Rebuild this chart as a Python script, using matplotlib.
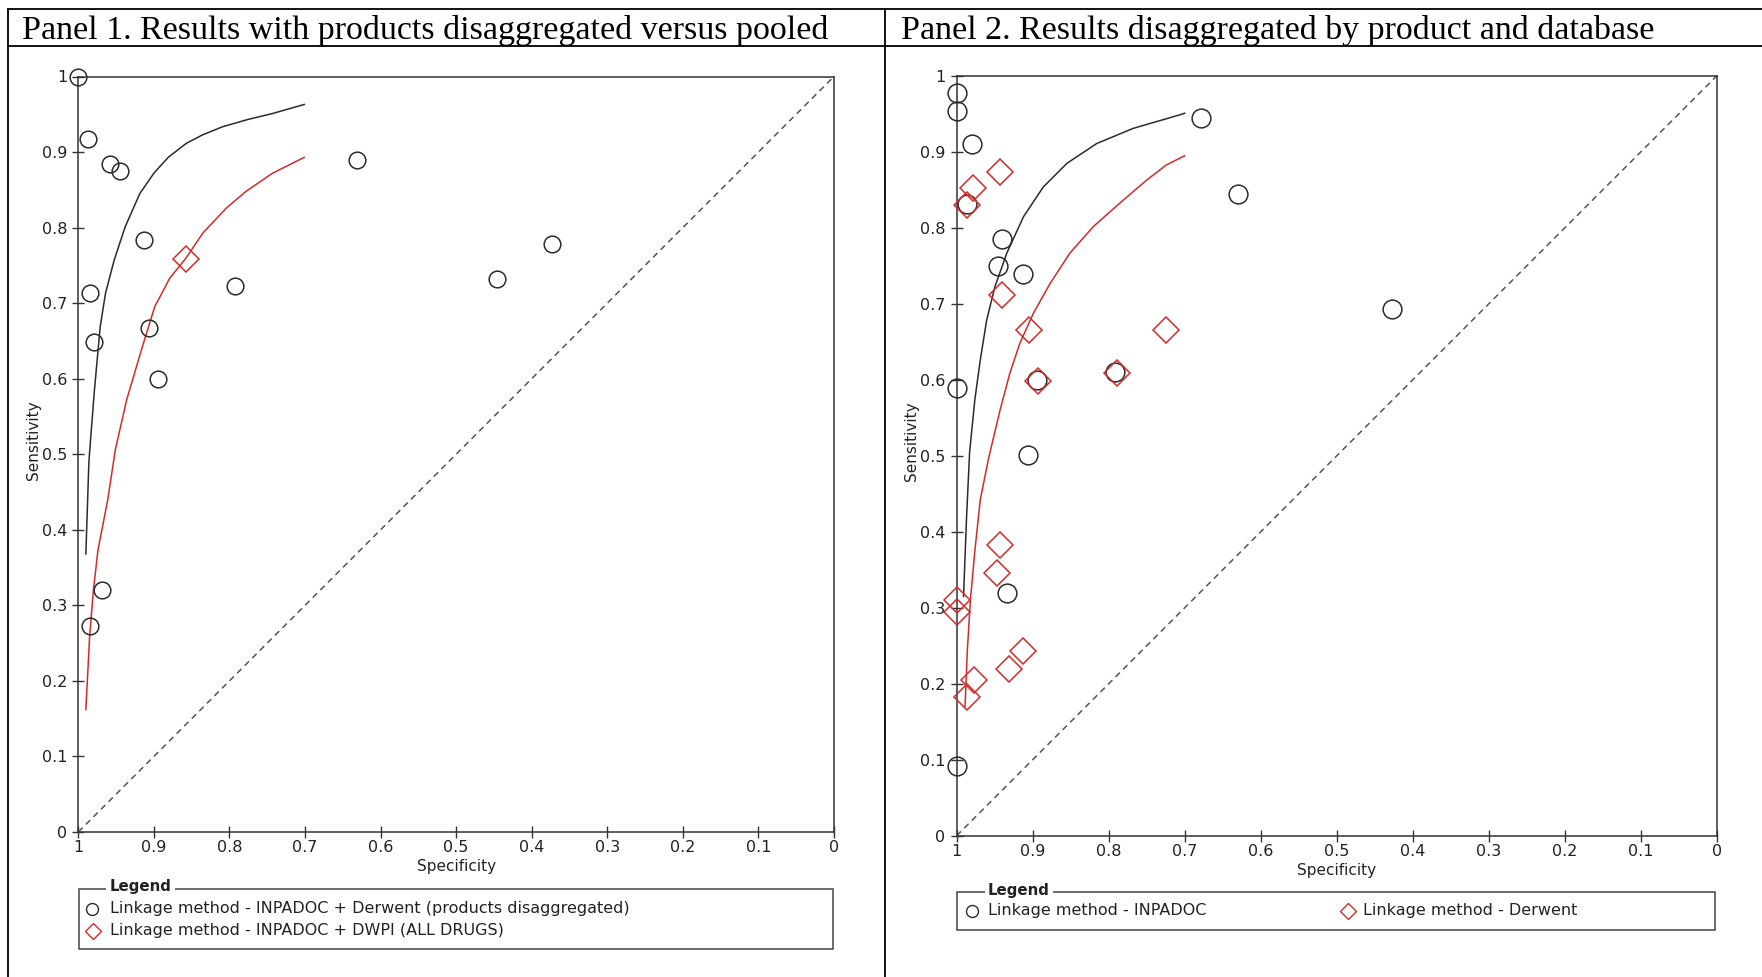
import matplotlib
matplotlib.use("Agg")
import matplotlib.pyplot as plt
from matplotlib.lines import Line2D
from matplotlib.patches import Rectangle

W, H = 1762, 977
DPI = 100

plt.rcParams["font.family"] = ["DejaVu Sans"]

# ---- Panel 1: products disaggregated (circles) vs pooled (diamond) ----
p1_circle_spec = [1.000, 0.987, 0.958, 0.945, 0.913, 0.985, 0.979, 0.907,
                  0.894, 0.792, 0.631, 0.373, 0.446, 0.968, 0.985]
p1_circle_sens = [1.000, 0.917, 0.884, 0.875, 0.783, 0.714, 0.648, 0.667,
                  0.600, 0.723, 0.889, 0.778, 0.732, 0.320, 0.273]
p1_diamond_spec = [0.858]
p1_diamond_sens = [0.759]

p1_black_spec = [0.990, 0.986, 0.979, 0.971, 0.964, 0.9525, 0.938, 0.9186,
                 0.9, 0.881, 0.857, 0.835, 0.8087, 0.776, 0.743, 0.701]
p1_black_sens = [0.368, 0.490, 0.581, 0.669, 0.713, 0.757, 0.801, 0.845,
                 0.872, 0.893, 0.9116, 0.923, 0.9336, 0.943, 0.951, 0.963]
p1_red_spec = [0.990, 0.985, 0.980, 0.974, 0.961, 0.951, 0.936, 0.9165,
               0.899, 0.879, 0.858, 0.835, 0.804, 0.778, 0.743, 0.701]
p1_red_sens = [0.162, 0.259, 0.320, 0.373, 0.440, 0.506, 0.572, 0.638,
               0.695, 0.733, 0.759, 0.793, 0.826, 0.848, 0.872, 0.893]

# ---- Panel 2: by product and database ----
p2_circle_spec = [1.000, 1.000, 0.980, 0.986, 0.941, 0.946, 0.913, 1.000,
                  0.895, 0.792, 0.906, 0.934, 1.000, 0.679, 0.630, 0.427]
p2_circle_sens = [0.977, 0.954, 0.911, 0.832, 0.786, 0.750, 0.739, 0.589,
                  0.600, 0.611, 0.501, 0.320, 0.092, 0.945, 0.845, 0.693]
p2_diamond_spec = [0.943, 0.978, 0.986, 0.940, 0.905, 0.893, 0.789, 0.724,
                   0.943, 0.947, 0.999, 0.999, 0.913, 0.931, 0.977, 0.986]
p2_diamond_sens = [0.874, 0.852, 0.830, 0.712, 0.665, 0.598, 0.609, 0.665,
                   0.383, 0.346, 0.310, 0.294, 0.243, 0.219, 0.205, 0.182]

p2_black_spec = [0.991, 0.987, 0.983, 0.976, 0.969, 0.9605, 0.9496, 0.934,
                 0.912, 0.886, 0.855, 0.816, 0.768, 0.706, 0.700]
p2_black_sens = [0.315, 0.420, 0.505, 0.575, 0.626, 0.679, 0.723, 0.767,
                 0.815, 0.854, 0.885, 0.911, 0.931, 0.949, 0.951]
p2_red_spec = [0.989, 0.986, 0.982, 0.976, 0.969, 0.958, 0.943, 0.930, 0.917,
               0.899, 0.877, 0.851, 0.820, 0.785, 0.750, 0.724, 0.700]
p2_red_sens = [0.170, 0.244, 0.310, 0.376, 0.442, 0.497, 0.560, 0.609, 0.648,
               0.688, 0.727, 0.767, 0.802, 0.833, 0.863, 0.883, 0.895]

tick_vals = [1.0, 0.9, 0.8, 0.7, 0.6, 0.5, 0.4, 0.3, 0.2, 0.1, 0.0]
tick_labels = ["1", "0.9", "0.8", "0.7", "0.6", "0.5", "0.4", "0.3", "0.2", "0.1", "0"]

titles = ["Panel 1. Results with products disaggregated versus pooled",
          "Panel 2. Results disaggregated by product and database"]

BLACK = "#2b2b2b"
RED = "#d42a2a"
AXCOL = "#333333"


def fx(x):
    return x / W


def fy(y):
    return 1 - y / H


fig = plt.figure(figsize=(W / DPI, H / DPI), dpi=DPI)
fig.patch.set_facecolor("white")

# table grid around the two panels
for x0, y0, x1, y1 in [(8.3, 9, W, 9), (8.3, 45.7, W, 45.7),
                       (8.3, 9, 8.3, H), (885.3, 9, 885.3, H)]:
    fig.add_artist(Line2D([fx(x0), fx(x1)], [fy(y0), fy(y1)], color="black",
                          lw=1.3, transform=fig.transFigure))

fig.text(fx(22), fy(39.5), titles[0], fontfamily="Liberation Serif",
         fontsize=24.5, va="baseline", ha="left")
fig.text(fx(901), fy(39.5), titles[1], fontfamily="Liberation Serif",
         fontsize=24.5, va="baseline", ha="left")


def setup_axes(ax, ylab_y):
    ax.set_xlim(1, 0)
    ax.set_ylim(0, 1)
    ax.set_xticks(tick_vals)
    ax.set_xticklabels(tick_labels)
    ax.set_yticks(tick_vals)
    ax.set_yticklabels(tick_labels)
    ax.tick_params(axis="both", direction="inout", length=8.5, width=1.0,
                   color=AXCOL, labelcolor="#222222", labelsize=11.5)
    ax.tick_params(axis="x", pad=1.5)
    ax.tick_params(axis="y", pad=3.8)
    for s in ax.spines.values():
        s.set_color(AXCOL)
        s.set_linewidth(1.1)
    ax.set_xlabel("Specificity", fontsize=11, color="#222222")
    ax.set_ylabel("Sensitivity", fontsize=11, color="#222222")
    ax.xaxis.label.set_va("center")
    ax.yaxis.label.set_va("center")
    ax.xaxis.set_label_coords(0.5, -34.5 / 756)
    ax.yaxis.set_label_coords(-45.0 / 756, ylab_y)
    ax.plot([1, 0], [0, 1], ls=(0, (4, 3)), color="#555555", lw=1.1)


def draw_points(ax, cs, cn, ds, dn, circ_ms):
    ax.plot(cs, cn, "o", mfc="none", mec=BLACK, ms=circ_ms, mew=1.1,
            clip_on=False, zorder=5)
    ax.plot(ds, dn, "D", mfc="none", mec=RED, ms=13, mew=1.1,
            clip_on=False, zorder=5)


ax1 = fig.add_axes([fx(78.3), fy(832), (834 - 78.3) / W, (832 - 76.5) / H])
setup_axes(ax1, 0.519)
ax1.plot(p1_black_spec, p1_black_sens, color=BLACK, lw=1.1)
ax1.plot(p1_red_spec, p1_red_sens, color=RED, lw=1.1)
draw_points(ax1, p1_circle_spec, p1_circle_sens,
            p1_diamond_spec, p1_diamond_sens, 12)

ax2 = fig.add_axes([fx(956.7), fy(835.7), 760 / W, 759.7 / H])
setup_axes(ax2, 0.5195)
ax2.plot(p2_black_spec, p2_black_sens, color=BLACK, lw=1.1)
ax2.plot(p2_red_spec, p2_red_sens, color=RED, lw=1.1)
draw_points(ax2, p2_circle_spec, p2_circle_sens,
            p2_diamond_spec, p2_diamond_sens, 13.5)


def legend_box(x0, y0, x1, y1, title_x, title_y):
    fig.add_artist(Rectangle((fx(x0), fy(y1)), (x1 - x0) / W, (y1 - y0) / H,
                             transform=fig.transFigure, fill=False,
                             ec="#444444", lw=1.1))
    fig.text(fx(title_x), fy(title_y), "Legend", fontsize=10.8,
             fontweight="bold", color="#222222", va="center", ha="left",
             bbox=dict(fc="white", ec="none", pad=2.5))


def legend_entry(mx, y, tx, marker, color, label):
    fig.add_artist(Line2D([fx(mx)], [fy(y)], marker=marker, ms=8.6,
                          mfc="none", mec=color, mew=1.0, ls="none",
                          transform=fig.transFigure))
    fig.text(fx(tx), fy(y), label, fontsize=11.5, color="#222222",
             va="center", ha="left")


legend_box(78.9, 888.7, 833, 948.7, 109.5, 886)
legend_entry(92, 909, 109.5, "o", BLACK,
             "Linkage method - INPADOC + Derwent (products disaggregated)")
legend_entry(93, 930.7, 109.5, "D", RED,
             "Linkage method - INPADOC + DWPI (ALL DRUGS)")

legend_box(957, 892.3, 1714.7, 930, 988, 890)
legend_entry(971.5, 911, 988, "o", BLACK, "Linkage method - INPADOC")
legend_entry(1348, 911, 1363.4, "D", RED, "Linkage method - Derwent")

fig.savefig("out.png", dpi=DPI)
